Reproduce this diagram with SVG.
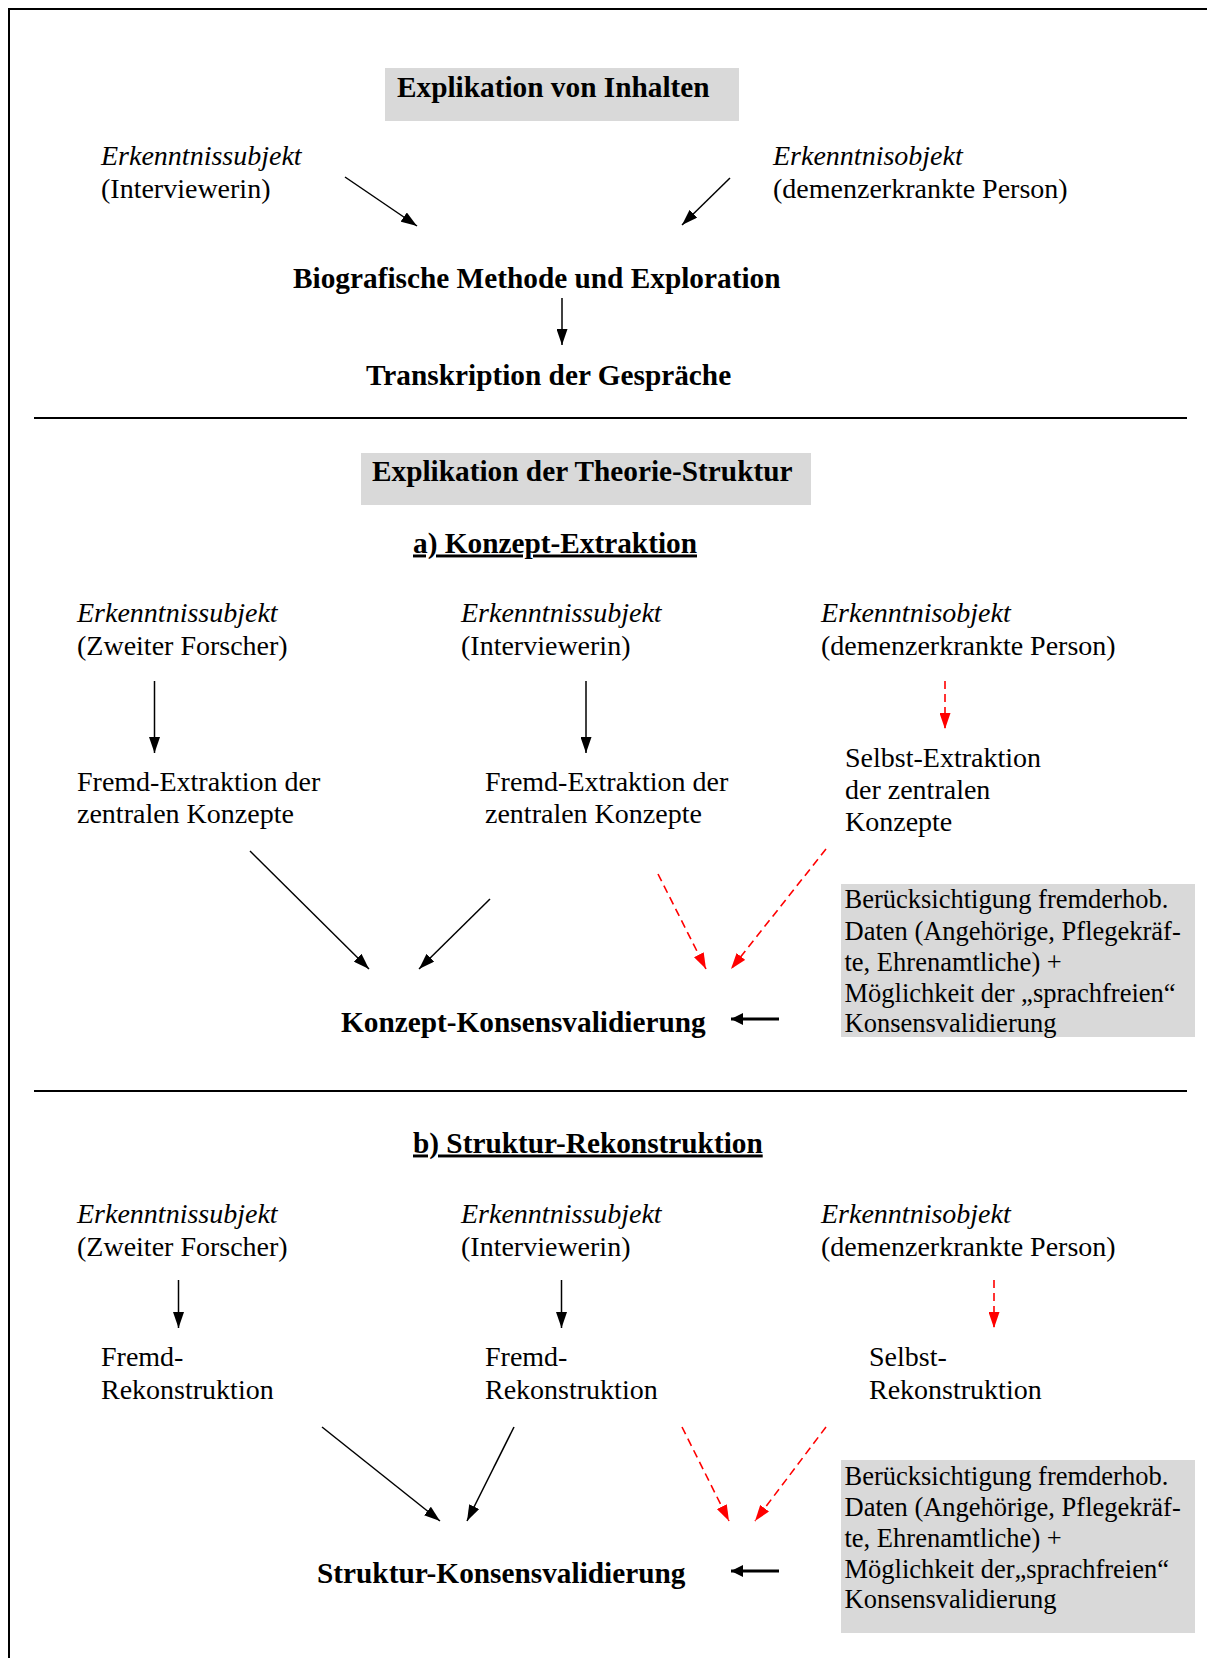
<svg xmlns="http://www.w3.org/2000/svg" width="1207" height="1658" viewBox="0 0 1207 1658">
  <style>
    text { font-family: "Liberation Serif", "Times New Roman", serif; fill: #000; }
    .t { font-size: 28px; }
    .ti { font-size: 28px; font-style: italic; }
    .h { font-size: 29.3px; font-weight: bold; }
    .hu { font-size: 29.3px; font-weight: bold; text-decoration: underline; text-decoration-thickness: 2px; }
    .bx { font-size: 26.5px; }
    .panel { fill: #d9d9d9; }
    .rule { stroke: #000; stroke-width: 2; fill: none; }
    .arr { stroke: #000; stroke-width: 1.5; fill: none; marker-end: url(#ah); }
    .arr-red { stroke: #ff0000; stroke-width: 1.6; stroke-dasharray: 8 5; fill: none; marker-end: url(#ahr); }
    .arr-bold { stroke: #000; stroke-width: 3; fill: none; marker-end: url(#ahb); }
  </style>
  <defs>
    <marker id="ah" markerUnits="userSpaceOnUse" markerWidth="16" markerHeight="11" refX="16" refY="5.5" orient="auto">
      <path d="M0,0 L16,5.5 L0,11 z" fill="#000"/>
    </marker>
    <marker id="ahr" markerUnits="userSpaceOnUse" markerWidth="16" markerHeight="11" refX="16" refY="5.5" orient="auto">
      <path d="M0,0 L16,5.5 L0,11 z" fill="#ff0000"/>
    </marker>
    <marker id="ahb" markerUnits="userSpaceOnUse" markerWidth="12" markerHeight="12" refX="12" refY="6" orient="auto">
      <path d="M0,0 L12,6 L0,12 z" fill="#000"/>
    </marker>
  </defs>

  <rect x="0" y="0" width="1207" height="1658" fill="#fff"/>

  <!-- frame and section rules -->
  <g id="frame">
    <path class="rule" d="M9,1658 V9 H1207"/>
    <line class="rule" x1="34" y1="418" x2="1187" y2="418"/>
    <line class="rule" x1="34" y1="1091" x2="1187" y2="1091"/>
  </g>

  <!-- Part 1: Explikation von Inhalten -->
  <g id="title-inhalte">
    <rect class="panel" x="385" y="68" width="354" height="53"/>
    <text class="h" x="397" y="97">Explikation von Inhalten</text>
  </g>
  <g id="subjekt-1">
    <text class="ti" x="101" y="165">Erkenntnissubjekt</text>
    <text class="t" x="101" y="198">(Interviewerin)</text>
  </g>
  <g id="objekt-1">
    <text class="ti" x="773" y="165">Erkenntnisobjekt</text>
    <text class="t" x="773" y="198">(demenzerkrankte Person)</text>
  </g>
  <g id="biografische-methode">
    <text class="h" x="293" y="288">Biografische Methode und Exploration</text>
  </g>
  <g id="transkription">
    <text class="h" x="366" y="384.5">Transkription der Gespräche</text>
  </g>

  <!-- Part 2: Explikation der Theorie-Struktur, a) Konzept-Extraktion -->
  <g id="title-theorie">
    <rect class="panel" x="361" y="453" width="450" height="52"/>
    <text class="h" x="372" y="480.5">Explikation der Theorie-Struktur</text>
  </g>
  <g id="heading-a">
    <text class="hu" x="413" y="552.5">a) Konzept-Extraktion</text>
  </g>
  <g id="subjekt-a1">
    <text class="ti" x="77" y="621.5">Erkenntnissubjekt</text>
    <text class="t" x="77" y="654.5">(Zweiter Forscher)</text>
  </g>
  <g id="subjekt-a2">
    <text class="ti" x="461" y="621.5">Erkenntnissubjekt</text>
    <text class="t" x="461" y="654.5">(Interviewerin)</text>
  </g>
  <g id="objekt-a">
    <text class="ti" x="821" y="621.5">Erkenntnisobjekt</text>
    <text class="t" x="821" y="654.5">(demenzerkrankte Person)</text>
  </g>
  <g id="fremd-extraktion-1">
    <text class="t" x="77" y="790.5">Fremd-Extraktion der</text>
    <text class="t" x="77" y="822.5">zentralen Konzepte</text>
  </g>
  <g id="fremd-extraktion-2">
    <text class="t" x="485" y="790.5">Fremd-Extraktion der</text>
    <text class="t" x="485" y="822.5">zentralen Konzepte</text>
  </g>
  <g id="selbst-extraktion">
    <text class="t" x="845" y="766.5">Selbst-Extraktion</text>
    <text class="t" x="845" y="798.5">der zentralen</text>
    <text class="t" x="845" y="830.5">Konzepte</text>
  </g>
  <g id="konzept-konsens">
    <text class="h" x="341" y="1031.5">Konzept-Konsensvalidierung</text>
  </g>
  <g id="fremddaten-a">
    <rect class="panel" x="841" y="884" width="354" height="153"/>
    <text class="bx" x="844.5" y="908">Berücksichtigung fremderhob.</text>
    <text class="bx" x="844.5" y="940">Daten (Angehörige, Pflegekräf-</text>
    <text class="bx" x="844.5" y="971">te, Ehrenamtliche) +</text>
    <text class="bx" x="844.5" y="1002">Möglichkeit der „sprachfreien“</text>
    <text class="bx" x="844.5" y="1032">Konsensvalidierung</text>
  </g>

  <!-- Part 2: b) Struktur-Rekonstruktion -->
  <g id="heading-b">
    <text class="hu" x="413" y="1152.5">b) Struktur-Rekonstruktion</text>
  </g>
  <g id="subjekt-b1">
    <text class="ti" x="77" y="1222.5">Erkenntnissubjekt</text>
    <text class="t" x="77" y="1255.5">(Zweiter Forscher)</text>
  </g>
  <g id="subjekt-b2">
    <text class="ti" x="461" y="1222.5">Erkenntnissubjekt</text>
    <text class="t" x="461" y="1255.5">(Interviewerin)</text>
  </g>
  <g id="objekt-b">
    <text class="ti" x="821" y="1222.5">Erkenntnisobjekt</text>
    <text class="t" x="821" y="1255.5">(demenzerkrankte Person)</text>
  </g>
  <g id="fremd-rekonstruktion-1">
    <text class="t" x="101" y="1366">Fremd-</text>
    <text class="t" x="101" y="1399">Rekonstruktion</text>
  </g>
  <g id="fremd-rekonstruktion-2">
    <text class="t" x="485" y="1366">Fremd-</text>
    <text class="t" x="485" y="1399">Rekonstruktion</text>
  </g>
  <g id="selbst-rekonstruktion">
    <text class="t" x="869" y="1366">Selbst-</text>
    <text class="t" x="869" y="1399">Rekonstruktion</text>
  </g>
  <g id="struktur-konsens">
    <text class="h" x="317" y="1583">Struktur-Konsensvalidierung</text>
  </g>
  <g id="fremddaten-b">
    <rect class="panel" x="841" y="1460" width="354" height="173"/>
    <text class="bx" x="844.5" y="1485">Berücksichtigung fremderhob.</text>
    <text class="bx" x="844.5" y="1516">Daten (Angehörige, Pflegekräf-</text>
    <text class="bx" x="844.5" y="1547">te, Ehrenamtliche) +</text>
    <text class="bx" x="844.5" y="1578">Möglichkeit der„sprachfreien“</text>
    <text class="bx" x="844.5" y="1608">Konsensvalidierung</text>
  </g>

  <!-- connectors -->
  <g id="connectors">
    <!-- part 1 -->
    <line class="arr" x1="345" y1="177" x2="417" y2="226"/>
    <line class="arr" x1="730" y1="178" x2="682" y2="225"/>
    <line class="arr" x1="562" y1="298" x2="562" y2="345"/>

    <!-- a) Konzept-Extraktion -->
    <line class="arr" x1="154.5" y1="681" x2="154.5" y2="753"/>
    <line class="arr" x1="586" y1="681" x2="586" y2="753"/>
    <line class="arr-red" x1="945" y1="681" x2="945" y2="729"/>
    <line class="arr" x1="250" y1="851" x2="369" y2="969"/>
    <line class="arr" x1="490" y1="899" x2="419" y2="969"/>
    <line class="arr-red" x1="658" y1="874" x2="706" y2="969"/>
    <line class="arr-red" x1="826" y1="849" x2="731" y2="969"/>
    <line class="arr-bold" x1="779" y1="1019" x2="731" y2="1019"/>

    <!-- b) Struktur-Rekonstruktion -->
    <line class="arr" x1="178.5" y1="1280" x2="178.5" y2="1328"/>
    <line class="arr" x1="561.5" y1="1280" x2="561.5" y2="1328"/>
    <line class="arr-red" x1="994" y1="1280" x2="994" y2="1328"/>
    <line class="arr" x1="322" y1="1427" x2="440" y2="1521"/>
    <line class="arr" x1="514" y1="1427" x2="467" y2="1521"/>
    <line class="arr-red" x1="682" y1="1427" x2="729" y2="1521"/>
    <line class="arr-red" x1="826" y1="1427" x2="755" y2="1521"/>
    <line class="arr-bold" x1="779" y1="1571" x2="731" y2="1571"/>
  </g>
</svg>
